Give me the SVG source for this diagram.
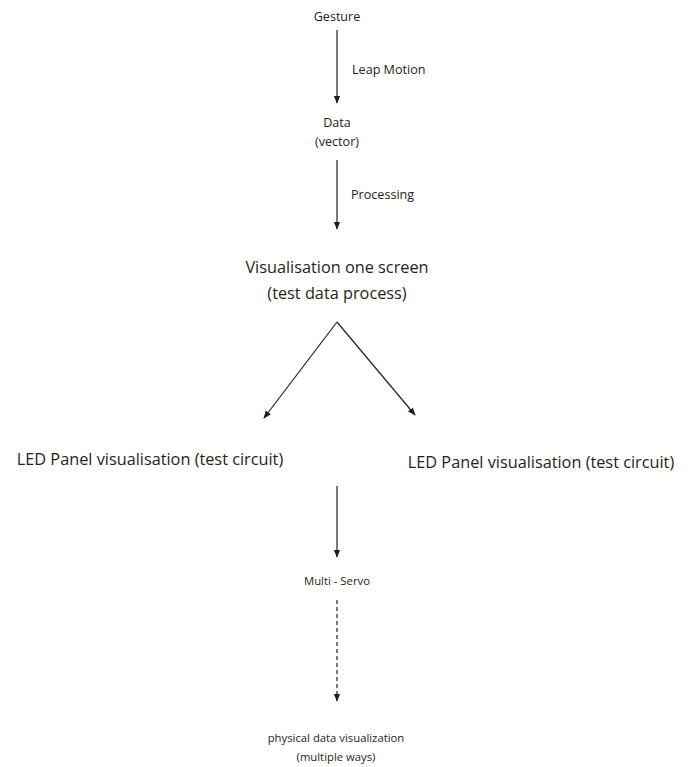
<svg xmlns="http://www.w3.org/2000/svg" width="691" height="767" viewBox="0 0 691 767">
<style>
text{font-family:"Open Sans","Noto Sans",sans-serif;fill:#231f20;text-anchor:middle}
.s{font-size:12.6px}
.t{font-size:11.3px}
.m{font-size:16.3px}
.l{font-size:16.3px}
.c{stroke:#231f20;stroke-width:1.2;fill:none}
.d{stroke-dasharray:4 3}
</style>
<defs>
<marker id="ah" viewBox="0 0 10 10" refX="9" refY="5" markerWidth="8" markerHeight="8" markerUnits="userSpaceOnUse" orient="auto">
<path d="M0,1 L10,5 L0,9 Z" fill="#231f20"/>
</marker>
</defs>
<rect width="691" height="767" fill="#fff"/>
<g id="connectors">
<line class="c" x1="337" y1="30" x2="337" y2="103" marker-end="url(#ah)"/>
<line class="c" x1="337" y1="160" x2="337" y2="229" marker-end="url(#ah)"/>
<line class="c" x1="337" y1="322" x2="264" y2="418" marker-end="url(#ah)"/>
<line class="c" x1="337" y1="322" x2="415" y2="415" marker-end="url(#ah)"/>
<line class="c" x1="337" y1="486" x2="337" y2="557" marker-end="url(#ah)"/>
<line class="c d" x1="337" y1="600" x2="337" y2="701" marker-end="url(#ah)"/>
<text class="s" x="352" y="74" style="text-anchor:start">Leap Motion</text>
<text class="s" x="351" y="199" style="text-anchor:start">Processing</text>
</g>
<g id="gesture"><text class="s" x="337" y="21">Gesture</text></g>
<g id="data"><text class="s" x="337" y="127">Data</text><text class="s" x="337" y="146">(vector)</text></g>
<g id="vis"><text class="m" x="337" y="273">Visualisation one screen</text><text class="m" x="337" y="299">(test data process)</text></g>
<g id="led1"><text class="l" x="150" y="465">LED Panel visualisation (test circuit)</text></g>
<g id="led2"><text class="l" x="541" y="468">LED Panel visualisation (test circuit)</text></g>
<g id="servo"><text class="t" x="337" y="585">Multi - Servo</text></g>
<g id="phys"><text class="t" x="336" y="742">physical data visualization</text><text class="t" x="336" y="761">(multiple ways)</text></g>
</svg>
